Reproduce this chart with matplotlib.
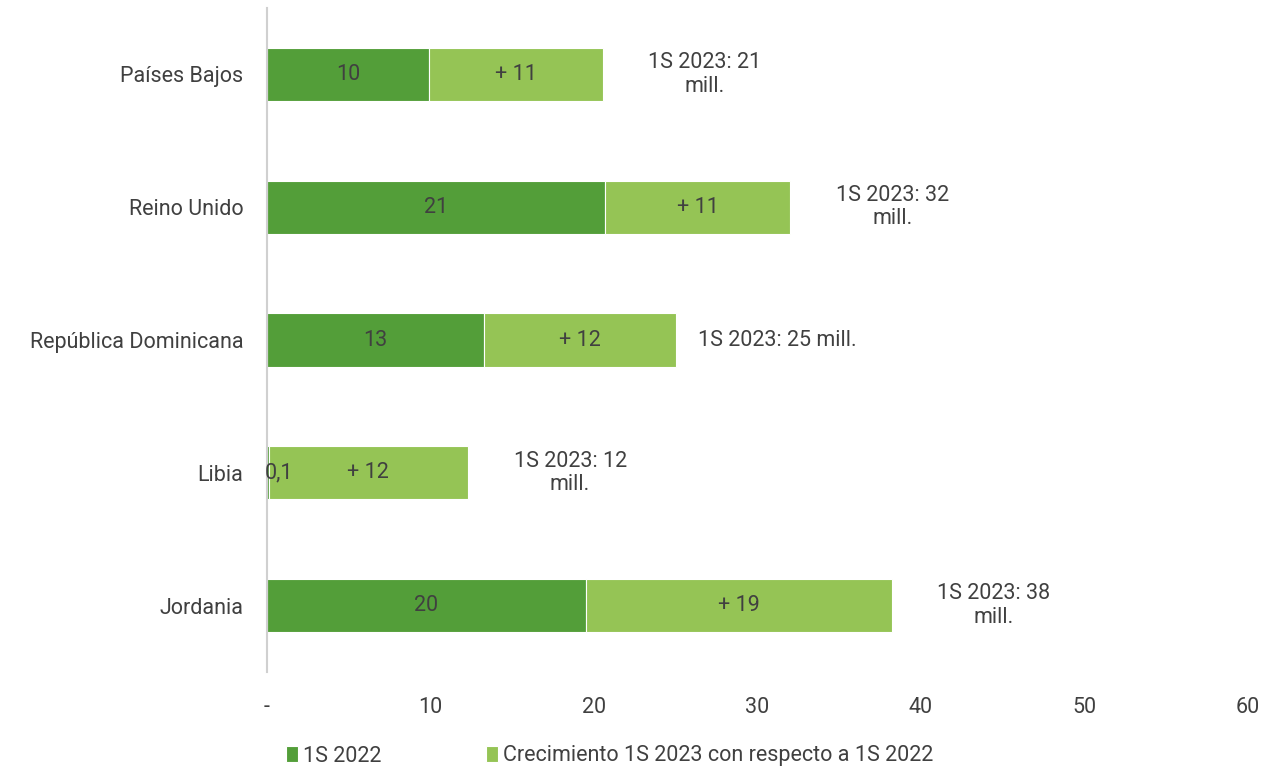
import matplotlib.pyplot as plt
import numpy as np

plt.rcParams['font.family'] = ['Roboto', 'DejaVu Sans']

paises = ['Países Bajos', 'Reino Unido', 'República Dominicana', 'Libia', 'Jordania']
s2022 = [9.9, 20.7, 13.3, 0.1, 19.5]
crecimiento = [10.65, 11.3, 11.7, 12.2, 18.7]
etiq_2022 = ['10', '21', '13', '0,1', '20']
etiq_crec = ['+ 11', '+ 11', '+ 12', '+ 12', '+ 19']
etiq_total = ['1S 2023: 21\nmill.', '1S 2023: 32\nmill.', '1S 2023: 25 mill.',
              '1S 2023: 12\nmill.', '1S 2023: 38\nmill.']

verde_osc = '#539E39'
verde_cla = '#95C455'
gris = '#404040'
fs = 15.5

fig = plt.figure(figsize=(12.8, 7.71), dpi=100)
ax = fig.add_axes([267/1280, 1 - 672/771, (1248-267)/1280, (672-8)/771])

y = np.arange(len(paises))
ax.barh(y, s2022, height=0.4, color=verde_osc, edgecolor='white', linewidth=0.8, label='1S 2022')
ax.barh(y, crecimiento, left=s2022, height=0.4, color=verde_cla, edgecolor='white', linewidth=0.8,
        label='Crecimiento 1S 2023 con respecto a 1S 2022')

for i in range(len(paises)):
    xa = s2022[i] / 2 if s2022[i] > 1 else 0.75
    ax.text(xa, i, etiq_2022[i], ha='center', va='center', fontsize=fs, color=gris)
    ax.text(s2022[i] + crecimiento[i] / 2, i, etiq_crec[i], ha='center', va='center', fontsize=fs, color=gris)
    total = s2022[i] + crecimiento[i]
    ax.annotate(etiq_total[i], (total, i), xytext=(102, 0), textcoords='offset pixels',
                ha='center', va='center', fontsize=fs, color=gris, linespacing=1.15)

ax.set_xlim(0, 60)
ax.set_ylim(4.5, -0.5)
ax.set_xticks([0, 10, 20, 30, 40, 50, 60])
ax.set_xticklabels(['-', '10', '20', '30', '40', '50', '60'])
ax.set_yticks(y)
ax.set_yticklabels(paises)
ax.tick_params(length=0, labelsize=fs, labelcolor=gris)
ax.tick_params(axis='x', pad=18)
ax.tick_params(axis='y', pad=17)
for s in ['top', 'right', 'bottom']:
    ax.spines[s].set_visible(False)
ax.spines['left'].set_color('#D0D0D0')
ax.spines['left'].set_linewidth(1.5)

fig.legend(loc='center left', bbox_to_anchor=(286/1280, 1 - 756/771), ncol=2, frameon=False,
           fontsize=fs, labelcolor=gris, handlelength=0.55, handleheight=0.8, handletextpad=0.25,
           columnspacing=4.85, borderaxespad=0, borderpad=0)

fig.savefig('out.png', dpi=100)
